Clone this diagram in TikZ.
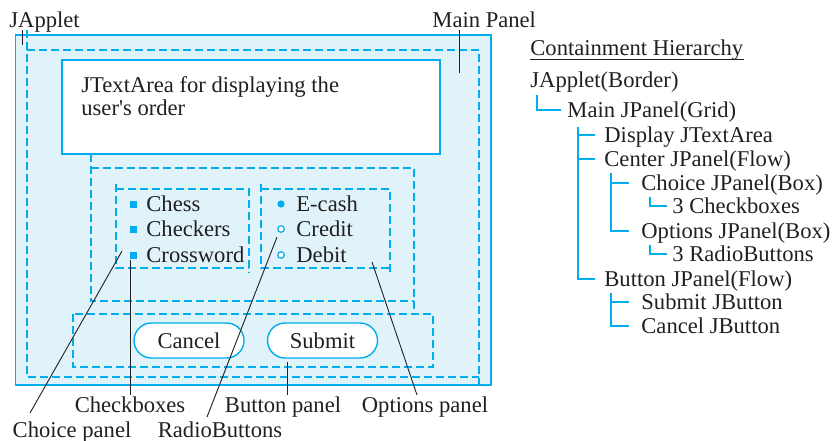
\documentclass[tikz,border=0pt]{standalone}
\usepackage{fontspec}
\setmainfont{Liberation Serif}
\newfontfamily\rawserif{Liberation Serif}
\usetikzlibrary{calc}
\definecolor{jblue}{RGB}{0,174,239}
\definecolor{jfill}{RGB}{224,243,251}
\definecolor{ink}{RGB}{35,31,32}
\begin{document}
\begin{tikzpicture}[x=0.5pt,y=-0.5pt,
  font=\fontsize{11.3}{13.5}\selectfont,
  panel/.style={draw=jblue,line width=0.65pt,dash pattern=on 4pt off 2pt},
  solidbox/.style={draw=jblue,line width=0.6pt},
  leader/.style={draw=ink,line width=0.45pt},
  tree/.style={draw=jblue,line width=1.35pt},
  lbl/.style={inner sep=0pt,anchor=base,text=ink},
  txt/.style={inner sep=0pt,anchor=base west,text=ink},
  btn/.style={draw=jblue,fill=white,line width=0.7pt,minimum width=55pt,minimum height=17.5pt,rounded corners=8.75pt,inner sep=0pt,text=ink},
  cbox/.style={fill=jblue,minimum size=3.5pt,inner sep=0pt},
  rbon/.style={circle,fill=jblue,minimum size=3.6pt,inner sep=0pt},
  rboff/.style={circle,draw=jblue,fill=white,line width=0.6pt,minimum size=3.3pt,inner sep=0pt},
]
\useasboundingbox (0,0) rectangle (838,440);

% applet and panels
\draw[solidbox,fill=jfill] (15.5,35) rectangle (491,385);
\draw[panel] (27,30) -- (27,377) -- (479,377);
\draw[panel] (27,50) -- (479,50) -- (479,388);
\draw[solidbox,fill=white,line width=0.8pt] (62,60) rectangle (440,154);
\draw[panel] (91,154) -- (91,301) -- (414,301);
\draw[panel] (91,168) -- (414,168) -- (414,314);
\draw[panel] (116,184) -- (116,268) -- (249,268);
\draw[panel] (116,189) -- (249,189) -- (249,273);
\draw[panel] (261,184) -- (261,268) -- (390,268);
\draw[panel] (261,189) -- (390,189) -- (390,273);
\draw[panel] (73,314) rectangle (433,367);

% text area
\node[txt] (ta1) at (81,92) {JTextArea for displaying the};
\node[txt] (ta2) at (81,115) {user{\rawserif '}s order};

% checkboxes
\node[cbox] (cb1) at (133,204) {};
\node[cbox] (cb2) at (133,229) {};
\node[cbox] (cb3) at (133,255) {};
\node[txt] (chess) at (146,211) {Chess};
\node[txt] (checkers) at (146,236) {Checkers};
\node[txt] (crossword) at (146,262) {Crossword};

% radio buttons
\node[rbon] (rb1) at (281,204) {};
\node[rboff] (rb2) at (281,229) {};
\node[rboff] (rb3) at (281,255) {};
\node[txt] (ecash) at (296,211) {E-cash};
\node[txt] (credit) at (296,236) {Credit};
\node[txt] (debit) at (296,262) {Debit};

% buttons
\node[btn] (cancel) at (189,340.5) {Cancel};
\node[btn] (submit) at (322.5,340.5) {Submit};

% labels
\node[txt] (lapplet) at (9,27) {JApplet};
\node[txt] (lmain) at (432,27) {Main Panel};
\node[lbl] (lcheck) at (130,412) {Checkboxes};
\node[lbl] (lchoice) at (72,437) {Choice panel};
\node[lbl] (lradio) at (220,437) {RadioButtons};
\node[lbl] (lbutton) at (283,412) {Button panel};
\node[lbl] (loptions) at (425,412) {Options panel};

% leader lines
\coordinate (pA1) at (22,30);   \coordinate (pA2) at (22,45);
\coordinate (pM1) at (459,30);  \coordinate (pM2) at (459,73);
\coordinate (pC1) at (122,251); \coordinate (pC2) at (30,413);
\coordinate (pK1) at (130,260); \coordinate (pK2) at (130,395);
\coordinate (pR1) at (277,237); \coordinate (pR2) at (207,417);
\coordinate (pB1) at (287,362); \coordinate (pB2) at (287,395);
\coordinate (pO1) at (372,262); \coordinate (pO2) at (417,395);
\draw[leader] (pA1) -- (pA2);
\draw[leader] (pM1) -- (pM2);
\draw[leader] (pC1) -- (pC2);
\draw[leader] (pK1) -- (pK2);
\draw[leader] (pR1) -- (pR2);
\draw[leader] (pB1) -- (pB2);
\draw[leader] (pO1) -- (pO2);

% containment hierarchy
\node[txt] (hd) at (530,55) {Containment Hierarchy};
\draw[ink,line width=0.5pt] ($(hd.base west)+(0,4.5)$) -- ($(hd.base east)+(0,4.5)$);
\node[txt] (ja) at (530,87) {JApplet(Border)};
\node[txt] (mj) at (567,117) {Main JPanel(Grid)};
\node[txt] (dt) at (604,142) {Display JTextArea};
\node[txt] (cp) at (604,166) {Center JPanel(Flow)};
\node[txt] (chp) at (641,190) {Choice JPanel(Box)};
\node[txt] (c3) at (672,213) {3 Checkboxes};
\node[txt] (op) at (641,238) {Options JPanel(Box)};
\node[txt] (r3) at (672,261) {3 RadioButtons};
\node[txt] (bp) at (604,286) {Button JPanel(Flow)};
\node[txt] (sb) at (641,309) {Submit JButton};
\node[txt] (cj) at (641,333) {Cancel JButton};

\coordinate (ja1) at ($(ja.base west)+(7,8)$);
\draw[tree] (ja1) |- ($(mj.base west)+(-6,-7)$);

\coordinate (mj1) at ($(mj.base west)+(11,10)$);
\draw[tree] (mj1) |- ($(bp.base west)+(-9,-7)$);
\draw[tree] ($(dt.base west)+(-26,-7)$) -- ($(dt.base west)+(-9,-7)$);
\draw[tree] ($(cp.base west)+(-26,-7)$) -- ($(cp.base west)+(-9,-7)$);

\coordinate (cp1) at ($(cp.base west)+(7,7)$);
\draw[tree] (cp1) |- ($(op.base west)+(-12,-7)$);
\draw[tree] ($(chp.base west)+(-30,-7)$) -- ($(chp.base west)+(-12,-7)$);

\coordinate (chp1) at ($(chp.base west)+(9,7)$);
\draw[tree] (chp1) |- ($(c3.base west)+(-5,-7)$);
\coordinate (op1) at ($(op.base west)+(9,7)$);
\draw[tree] (op1) |- ($(r3.base west)+(-5,-7)$);

\coordinate (bp1) at ($(bp.base west)+(7,7)$);
\draw[tree] (bp1) |- ($(cj.base west)+(-12,-7)$);
\draw[tree] ($(sb.base west)+(-30,-7)$) -- ($(sb.base west)+(-12,-7)$);
\end{tikzpicture}
\end{document}
